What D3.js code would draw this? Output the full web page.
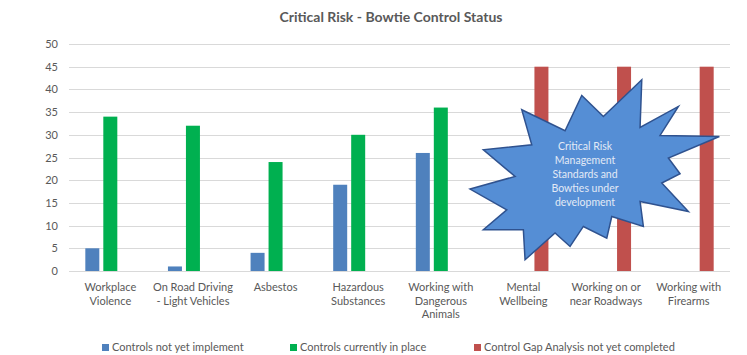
<!DOCTYPE html>
<html>
<head>
<meta charset="utf-8">
<script src="https://cdn.jsdelivr.net/npm/d3@7"></script>
<style>
  html, body { margin: 0; padding: 0; background: #fff; }
  svg { display: block; }
  text { font-family: Lato, "Open Sans", sans-serif; }
</style>
</head>
<body>
<svg id="chart" width="747" height="355"></svg>
<script>
// Risk categories (label lines) and counts per control status
const categories = [
  ["Workplace", "Violence"],
  ["On Road Driving", "- Light Vehicles"],
  ["Asbestos"],
  ["Hazardous", "Substances"],
  ["Working with", "Dangerous", "Animals"],
  ["Mental", "Wellbeing"],
  ["Working on or", "near Roadways"],
  ["Working with", "Firearms"]
];
const seriesNames = [
  "Controls not yet implement",
  "Controls currently in place",
  "Control Gap Analysis not yet completed"
];
const notImplemented = [5, 1, 4, 19, 26, 0, 0, 0];
const inPlace        = [34, 32, 24, 30, 36, 0, 0, 0];
const gapAnalysis    = [0, 0, 0, 0, 0, 45, 45, 45];
const yTicks = [0, 5, 10, 15, 20, 25, 30, 35, 40, 45, 50];
const seriesColors = ["#4F81BD", "#00B050", "#C0504D"];

const calloutLines = ["Critical Risk", "Management", "Standards and", "Bowties under", "development"];

const svg = d3.select("#chart");
const plotLeft = 69, plotRight = 730, plotTop = 44, plotBottom = 271;

const keys = categories.map((d, i) => i);
const x0 = d3.scaleBand().domain(keys).range([plotLeft, plotRight])
  .paddingInner(0.395).paddingOuter(0.1975);
const x1 = d3.scaleBand().domain([0, 1, 2]).range([0, x0.bandwidth()])
  .paddingInner(0.222).paddingOuter(0);
const y = d3.scaleLinear().domain([0, 50]).range([plotBottom, plotTop]);

// Title
svg.append("text")
  .attr("x", 391).attr("y", 22)
  .attr("text-anchor", "middle")
  .attr("font-size", 14).attr("font-weight", "bold")
  .attr("fill", "#595959")
  .text("Critical Risk - Bowtie Control Status");

// Horizontal gridlines
svg.append("g")
  .selectAll("line").data(yTicks).join("line")
  .attr("x1", plotLeft).attr("x2", plotRight)
  .attr("y1", d => Math.round(y(d)) + 0.5).attr("y2", d => Math.round(y(d)) + 0.5)
  .attr("stroke", "#d9d9d9").attr("stroke-width", 1);

// Y axis labels
const yAxis = d3.axisLeft(y).tickValues(yTicks).tickSize(0).tickPadding(11);
const gy = svg.append("g").attr("transform", `translate(${plotLeft},0)`).call(yAxis);
gy.select(".domain").remove();
gy.selectAll("text").attr("font-size", 11).attr("fill", "#595959")
  .attr("font-family", "Lato, 'Open Sans', sans-serif");

// Bars
const series = [notImplemented, inPlace, gapAnalysis];
const groups = svg.append("g").selectAll("g").data(keys).join("g")
  .attr("transform", d => `translate(${x0(d)},0)`);
groups.selectAll("rect")
  .data(i => series.map((s, k) => ({ k, v: s[i] })).filter(d => d.v > 0))
  .join("rect")
  .attr("x", d => x1(d.k))
  .attr("width", x1.bandwidth())
  .attr("y", d => y(d.v))
  .attr("height", d => y(0) - y(d.v))
  .attr("fill", d => seriesColors[d.k]);

// Category labels
const xl = svg.append("g");
categories.forEach((lines, i) => {
  const t = xl.append("text")
    .attr("x", x0(i) + x0.bandwidth() / 2)
    .attr("y", 291)
    .attr("text-anchor", "middle")
    .attr("font-size", 11).attr("fill", "#595959");
  lines.forEach((ln, j) => {
    t.append("tspan").attr("x", x0(i) + x0.bandwidth() / 2)
      .attr("dy", j === 0 ? 0 : 13.5).text(ln);
  });
});

// Callout: starburst over the last categories
const burst = [
  [-73.3, -60], [-30, -39], [-13.3, -74.3], [8.3, -53.3], [46.7, -90], [45, -42.3],
  [83.3, -63.3], [65, -34.3], [124.3, -33.3], [73.3, -11.7], [85, 4], [66.7, 13.3],
  [93.3, 41.7], [45, 31.7], [48.3, 56.7], [16.7, 46.7], [11.7, 68.3], [-11.7, 56.7],
  [-25, 76.7], [-40, 63.3], [-70, 90], [-71.7, 60], [-111.7, 60], [-88.3, 40],
  [-125, 19.3], [-80, 6.7], [-111.7, -20], [-63.3, -25]
];
const cx = x0(6) + x0.bandwidth() / 2 - 11;
const cy = y(22.3);
svg.append("path")
  .attr("d", d3.line()(burst.map(p => [cx + p[0], cy + p[1]])) + "Z")
  .attr("fill", "#558ED5")
  .attr("stroke", "#2F528F").attr("stroke-width", 1.5)
  .attr("stroke-linejoin", "miter");
const ct = svg.append("text")
  .attr("x", cx - 10).attr("y", cy - 20)
  .attr("text-anchor", "middle")
  .attr("font-size", 10.5).attr("fill", "#E3EAF6");
calloutLines.forEach((ln, j) => {
  ct.append("tspan").attr("x", cx - 10).attr("dy", j === 0 ? 0 : 14).text(ln);
});

// Legend
const legendX = [102, 290, 474];
const lg = svg.append("g");
seriesNames.forEach((name, k) => {
  lg.append("rect").attr("x", legendX[k]).attr("y", 344)
    .attr("width", 7).attr("height", 7).attr("fill", seriesColors[k]);
  lg.append("text").attr("x", legendX[k] + 10).attr("y", 351)
    .attr("font-size", 11).attr("fill", "#595959").text(name);
});
</script>
</body>
</html>
